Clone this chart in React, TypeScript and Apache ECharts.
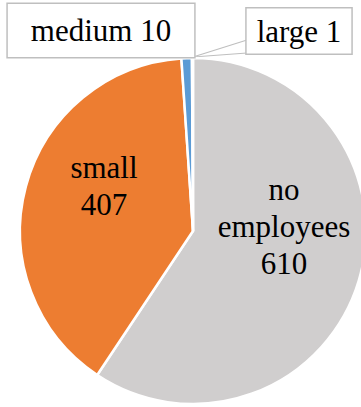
import React, { useEffect, useRef } from "react";
import * as echarts from "echarts";

const categories = ["no employees", "small", "medium", "large"];
const values = [610, 407, 10, 1];
const colors = ["#D0CECE", "#ED7D31", "#5B9BD5", "#A5A5A5"];

const FONT = "Liberation Serif";

export default function App() {
  const ref = useRef<HTMLDivElement>(null);
  useEffect(() => {
    document.body.style.margin = "0";
    const chart = echarts.init(ref.current!, null, { renderer: "svg" });
    const inside = (i: number) => i < 2;
    const labelPos: Record<number, [number, number]> = {
      0: [284, 226],
      1: [104, 186],
      2: [101, 30.5],
      3: [299, 31],
    };
    chart.setOption({
      animation: false,
      backgroundColor: "#ffffff",
      textStyle: { fontFamily: FONT },
      series: [
        {
          type: "pie",
          center: [193, 231],
          radius: [0, 173],
          startAngle: 90,
          clockwise: true,
          avoidLabelOverlap: false,
          itemStyle: { borderColor: "#ffffff", borderWidth: 2.5 },
          label: {
            fontFamily: FONT,
            fontSize: 31,
            lineHeight: 37,
            color: "#000000",
          },
          labelLine: { lineStyle: { color: "#BFBFBF", width: 1.2 } },
          data: categories.map((name, i) => ({
            name,
            value: values[i],
            itemStyle: { color: colors[i] },
            label: inside(i)
              ? {
                  position: "inside",
                  fontFamily: FONT,
                  formatter: (p: any) =>
                    String(p.name).split(" ").join("\n") + "\n" + p.value,
                }
              : {
                  position: "outside",
                  fontFamily: FONT,
                  formatter: "{b} {c}",
                  backgroundColor: "#ffffff",
                  borderColor: "#BFBFBF",
                  borderWidth: 1.5,
                  padding: i === 2 ? [8, 23] : [4, 10],
                },
            labelLine: { show: i === 3, length: 5, length2: 5 },
          })),
        },
      ],
    });
    chart.setOption({
      series: [
        {
          labelLayout: (params: any) => {
            const p = labelPos[params.dataIndex];
            const res: any = {
              x: p[0],
              y: p[1],
              align: "center",
              verticalAlign: "middle",
            };
            if (params.dataIndex === 3) {
              res.labelLinePoints = [
                [247, 53],
                [193, 57],
                [247, 40],
              ];
            }
            return res;
          },
        },
      ],
    });
    return () => chart.dispose();
  }, []);
  return <div ref={ref} style={{ width: 361, height: 407 }} />;
}
